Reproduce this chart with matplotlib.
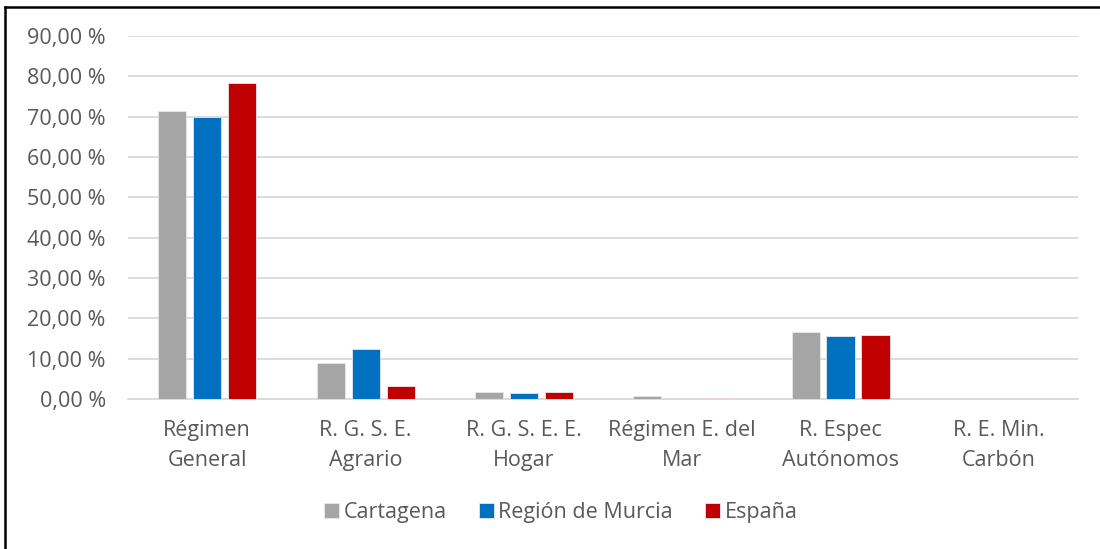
import matplotlib
matplotlib.use("Agg")
import matplotlib.pyplot as plt
import numpy as np
from matplotlib.ticker import FuncFormatter
from matplotlib.lines import Line2D

categories = ["Régimen\nGeneral", "R. G. S. E.\nAgrario", "R. G. S. E. E.\nHogar",
              "Régimen E. del\nMar", "R. Espec\nAutónomos", "R. E. Min.\nCarbón"]
series_names = ["Cartagena", "Región de Murcia", "España"]
cartagena = [71.5, 8.85, 1.75, 0.75, 16.6, 0.0]
murcia = [69.85, 12.5, 1.4, 0.1, 15.7, 0.0]
espana = [78.4, 3.15, 1.65, 0.15, 15.9, 0.01]
colors = ["#A5A5A5", "#0070C0", "#C00000"]
yticks = list(range(0, 100, 10))

plt.rcParams['font.family'] = ['Open Sans', 'DejaVu Sans']
fig = plt.figure(figsize=(11, 5.49), dpi=100)
ax = fig.add_axes([0.1164, 0.2732, 0.8636, 0.6612])

x = np.arange(len(categories))
w = 0.177
step = 0.221
for i, (vals, c, name) in enumerate(zip([cartagena, murcia, espana], colors, series_names)):
    ax.bar(x + (i - 1) * step, vals, width=w, color=c, label=name,
           edgecolor="#E8E8E8", linewidth=0.6, zorder=3)

ax.set_xlim(-0.5, len(categories) - 0.5)
ax.set_ylim(0, 90)
ax.set_yticks(yticks)
ax.yaxis.set_major_formatter(FuncFormatter(lambda v, p: f"{v:.2f}".replace(".", ",") + " %"))
ax.grid(axis="y", color="#D9D9D9", linewidth=1.3, zorder=0)
ax.set_axisbelow(True)
for s in ["top", "right", "left"]:
    ax.spines[s].set_visible(False)
ax.spines["bottom"].set_color("#D9D9D9")
ax.spines["bottom"].set_linewidth(1.3)
ax.tick_params(axis="both", length=0, labelcolor="#595959", labelsize=15.5)
ax.tick_params(axis="y", pad=16)
ax.tick_params(axis="x", pad=15)
ax.set_xticks(x)
ax.set_xticklabels(categories, linespacing=1.55)

leg = fig.legend(loc="center", bbox_to_anchor=(0.51, 0.067), ncol=3, frameon=False,
                 fontsize=15.5, handlelength=0.7, handleheight=0.7, handletextpad=0.2,
                 columnspacing=1.5)
for t in leg.get_texts():
    t.set_color("#595959")

# outer frame lines (top and left)
fig.add_artist(Line2D([0.0045, 1.0], [0.987, 0.987], color="black", linewidth=1.8, transform=fig.transFigure))
fig.add_artist(Line2D([0.0045, 0.0045], [0.0, 0.987], color="black", linewidth=1.8, transform=fig.transFigure))

fig.savefig("out.png", dpi=100, facecolor="white")
